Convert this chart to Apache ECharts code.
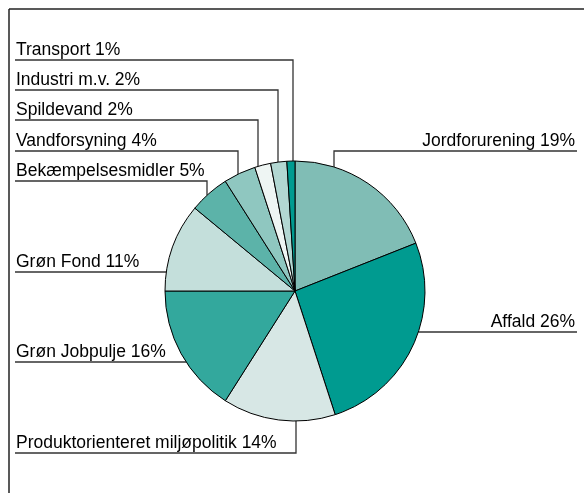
<!DOCTYPE html>
<html>
<head>
<meta charset="utf-8">
<script src="https://cdn.jsdelivr.net/npm/echarts@6/dist/echarts.min.js"></script>
<style>
  html, body { margin: 0; padding: 0; background: #fff; }
  #chartPie { width: 584px; height: 493px; }
</style>
</head>
<body>
<div id="chartPie"></div>
<script>
// data
const categories = [
  "Jordforurening", "Affald", "Produktorienteret miljøpolitik", "Grøn Jobpulje",
  "Grøn Fond", "Bekæmpelsesmidler", "Vandforsyning", "Spildevand", "Industri m.v.", "Transport"
];
const shares = [19, 26, 14, 16, 11, 5, 4, 2, 2, 1];
const sliceColors = [
  "#80bdb5", "#009b90", "#d7e7e5", "#33a89d", "#c4dfdb",
  "#5cb3a9", "#8fc7c0", "#eef5f3", "#b2d7d2", "#009b90"
];

// pie geometry
const cx = 295, cy = 291, r = 130;
const leftX = 15, rightX = 577;

// where each label sits: side, y of the underline, x where the leader meets the pie (null = horizontal)
const labelSpots = [
  { side: "right", lineY: 151, anchorX: 334, up: true },
  { side: "right", lineY: 332, anchorX: null },
  { side: "left", lineY: 453, anchorX: 296, up: false },
  { side: "left", lineY: 362, anchorX: null },
  { side: "left", lineY: 272, anchorX: null },
  { side: "left", lineY: 181, anchorX: 207, up: true },
  { side: "left", lineY: 151, anchorX: 238, up: true },
  { side: "left", lineY: 120, anchorX: 258, up: true },
  { side: "left", lineY: 90, anchorX: 278, up: true },
  { side: "left", lineY: 60, anchorX: 293, up: true }
];

let chartPie = echarts.init(document.getElementById("chartPie"));

chartPie.setOption({
  animation: false,
  graphic: [
    { type: "line", shape: { x1: 9, y1: 9, x2: 584, y2: 9 }, style: { stroke: "#222", lineWidth: 1.5 } },
    { type: "line", shape: { x1: 9, y1: 9, x2: 9, y2: 493 }, style: { stroke: "#222", lineWidth: 1.5 } }
  ],
  series: [
    {
      type: "pie",
      center: [cx, cy],
      radius: r,
      startAngle: 90,
      clockwise: true,
      avoidLabelOverlap: false,
      data: categories.map(function(name, i) {
        return { name: name, value: shares[i], itemStyle: { color: sliceColors[i] } };
      }),
      itemStyle: {
        borderColor: "#000",
        borderWidth: 1
      },
      label: {
        show: true,
        position: "outside",
        formatter: "{b} {c}%",
        fontFamily: "Liberation Sans",
        fontSize: 17.5,
        color: "#000",
        lineHeight: 18
      },
      labelLine: {
        show: true,
        length: 10,
        length2: 10,
        lineStyle: { color: "#333", width: 1.3 }
      },
      labelLayout: function(params) {
        const s = labelSpots[params.dataIndex];
        let px, py;
        if (s.anchorX !== null) {
          px = s.anchorX;
          const h = Math.sqrt(r * r - (px - cx) * (px - cx));
          py = s.up ? cy - h : cy + h;
        } else {
          py = s.lineY;
          const w = Math.sqrt(r * r - (py - cy) * (py - cy));
          px = s.side === "left" ? cx - w : cx + w;
        }
        const endX = s.side === "left" ? leftX : rightX;
        return {
          x: s.side === "left" ? leftX + 1 : rightX - 2,
          y: s.lineY - 1,
          align: s.side,
          verticalAlign: "bottom",
          labelLinePoints: [[px, py], [px, s.lineY], [endX, s.lineY]]
        };
      }
    }
  ]
});
</script>
</body>
</html>
